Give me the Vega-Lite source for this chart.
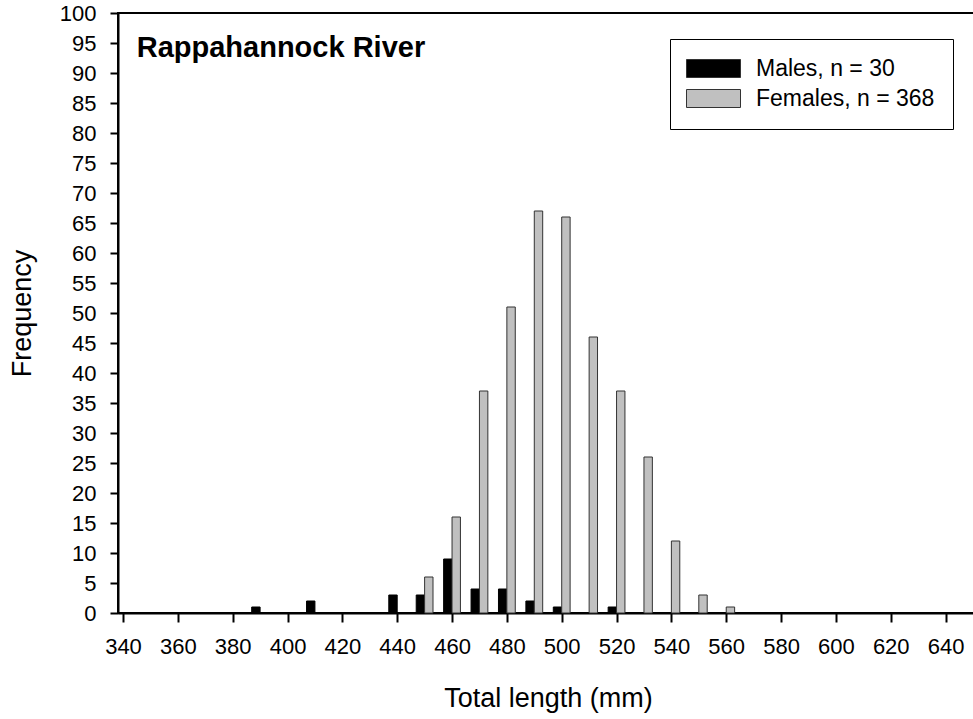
{
  "$schema": "https://vega.github.io/schema/vega-lite/v6.json",
  "autosize": {"type": "none"},
  "padding": {"left": 118, "top": 13, "right": 0, "bottom": 106},
  "width": 860,
  "height": 600,
  "background": "white",
  "data": {
    "values": [
      {"length": 390, "sex": "Males, n = 30", "count": 1},
      {"length": 410, "sex": "Males, n = 30", "count": 2},
      {"length": 440, "sex": "Males, n = 30", "count": 3},
      {"length": 450, "sex": "Males, n = 30", "count": 3},
      {"length": 460, "sex": "Males, n = 30", "count": 9},
      {"length": 470, "sex": "Males, n = 30", "count": 4},
      {"length": 480, "sex": "Males, n = 30", "count": 4},
      {"length": 490, "sex": "Males, n = 30", "count": 2},
      {"length": 500, "sex": "Males, n = 30", "count": 1},
      {"length": 520, "sex": "Males, n = 30", "count": 1},
      {"length": 450, "sex": "Females, n = 368", "count": 6},
      {"length": 460, "sex": "Females, n = 368", "count": 16},
      {"length": 470, "sex": "Females, n = 368", "count": 37},
      {"length": 480, "sex": "Females, n = 368", "count": 51},
      {"length": 490, "sex": "Females, n = 368", "count": 67},
      {"length": 500, "sex": "Females, n = 368", "count": 66},
      {"length": 510, "sex": "Females, n = 368", "count": 46},
      {"length": 520, "sex": "Females, n = 368", "count": 37},
      {"length": 530, "sex": "Females, n = 368", "count": 26},
      {"length": 540, "sex": "Females, n = 368", "count": 12},
      {"length": 550, "sex": "Females, n = 368", "count": 3},
      {"length": 560, "sex": "Females, n = 368", "count": 1}
    ]
  },
  "layer": [
    {
      "transform": [{"filter": "datum.sex === 'Males, n = 30'"}],
      "mark": {"type": "bar", "width": 8.4, "xOffset": -4.2, "stroke": "#000000", "strokeWidth": 1},
      "encoding": {
        "x": {
          "field": "length",
          "type": "quantitative",
          "scale": {"domain": [340, 650], "nice": false, "zero": false},
          "axis": {"title": "Total length (mm)", "values": [340, 360, 380, 400, 420, 440, 460, 480, 500, 520, 540, 560, 580, 600, 620, 640], "grid": false, "tickSize": 9, "labelPadding": 14, "titleY": 93, "titleBaseline": "alphabetic"}
        },
        "y": {
          "field": "count",
          "type": "quantitative",
          "scale": {"domain": [0, 100], "nice": false},
          "axis": {"title": "Frequency", "values": [0, 5, 10, 15, 20, 25, 30, 35, 40, 45, 50, 55, 60, 65, 70, 75, 80, 85, 90, 95, 100], "grid": false, "tickSize": 8, "labelPadding": 14, "labelOverlap": false, "titleAngle": -90, "titleX": -96, "titleY": 300, "titleBaseline": "middle", "titleAlign": "center"}
        },
        "color": {
          "field": "sex",
          "type": "nominal",
          "scale": {"domain": ["Males, n = 30", "Females, n = 368"], "range": ["#000000", "#c0c0c0"]},
          "legend": {
            "title": null,
            "orient": "none",
            "legendX": 552,
            "legendY": 26,
            "padding": 18,
            "strokeColor": "black",
            "fillColor": "white",
            "symbolType": "M-1.444,-1H4.556V1H-1.444Z",
            "symbolSize": 324,
            "symbolStrokeColor": "#333333",
            "symbolStrokeWidth": 1,
            "labelFont": "Liberation Sans",
            "labelFontSize": 23,
            "labelColor": "black",
            "labelLimit": 400,
            "labelOffset": 45,
            "rowPadding": 6
          }
        }
      }
    },
    {
      "transform": [{"filter": "datum.sex === 'Females, n = 368'"}],
      "mark": {"type": "bar", "width": 8.4, "xOffset": 4.2, "stroke": "#333333", "strokeWidth": 1},
      "encoding": {
        "x": {
          "field": "length",
          "type": "quantitative",
          "scale": {"domain": [340, 650], "nice": false, "zero": false},
          "axis": {"title": "Total length (mm)", "values": [340, 360, 380, 400, 420, 440, 460, 480, 500, 520, 540, 560, 580, 600, 620, 640], "grid": false, "tickSize": 9, "labelPadding": 14, "titleY": 93, "titleBaseline": "alphabetic"}
        },
        "y": {
          "field": "count",
          "type": "quantitative",
          "scale": {"domain": [0, 100], "nice": false},
          "axis": {"title": "Frequency", "values": [0, 5, 10, 15, 20, 25, 30, 35, 40, 45, 50, 55, 60, 65, 70, 75, 80, 85, 90, 95, 100], "grid": false, "tickSize": 8, "labelPadding": 14, "labelOverlap": false, "titleAngle": -90, "titleX": -96, "titleY": 300, "titleBaseline": "middle", "titleAlign": "center"}
        },
        "color": {"field": "sex", "type": "nominal"}
      }
    },
    {
      "data": {"values": [{"label": "Rappahannock River"}]},
      "mark": {
        "type": "text",
        "align": "left",
        "baseline": "alphabetic",
        "font": "Liberation Sans",
        "fontSize": 29,
        "fontWeight": "bold",
        "color": "black"
      },
      "encoding": {
        "x": {
          "datum": 345,
          "type": "quantitative",
          "axis": {"title": "Total length (mm)", "values": [340, 360, 380, 400, 420, 440, 460, 480, 500, 520, 540, 560, 580, 600, 620, 640], "grid": false, "tickSize": 9, "labelPadding": 14, "titleY": 93, "titleBaseline": "alphabetic"}
        },
        "y": {
          "datum": 92.7,
          "type": "quantitative",
          "axis": {"title": "Frequency", "values": [0, 5, 10, 15, 20, 25, 30, 35, 40, 45, 50, 55, 60, 65, 70, 75, 80, 85, 90, 95, 100], "grid": false, "tickSize": 8, "labelPadding": 14, "labelOverlap": false, "titleAngle": -90, "titleX": -96, "titleY": 300, "titleBaseline": "middle", "titleAlign": "center"}
        },
        "text": {"field": "label", "type": "nominal"}
      }
    }
  ],
  "config": {
    "font": "Liberation Sans",
    "view": {"stroke": "black", "strokeWidth": 2},
    "axis": {
      "domainColor": "black",
      "domainWidth": 2,
      "tickColor": "black",
      "tickWidth": 2,
      "labelFont": "Liberation Sans",
      "labelFontSize": 22,
      "labelColor": "black",
      "titleFont": "Liberation Sans",
      "titleFontSize": 27,
      "titleFontWeight": "normal",
      "titleColor": "black"
    }
  }
}
